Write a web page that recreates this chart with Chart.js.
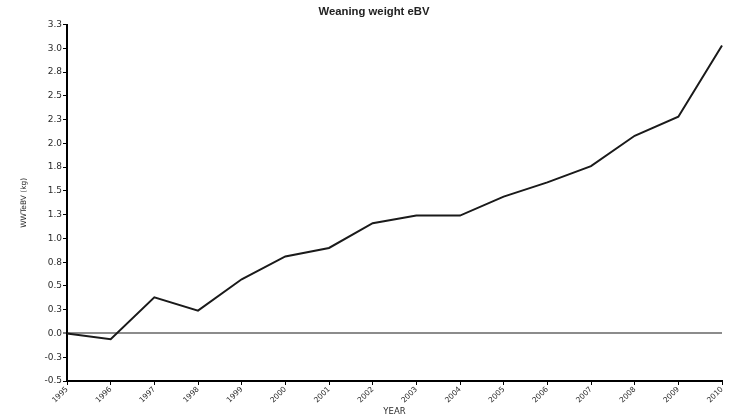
<!DOCTYPE html>
<html>
<head>
<meta charset="utf-8">
<script src="https://cdn.jsdelivr.net/npm/chart.js@4"></script>
<style>
  html, body { margin: 0; padding: 0; background: #fff; }
  #wrap { width: 748px; height: 414px; }
</style>
</head>
<body>
<div id="wrap"><canvas id="c" width="748" height="414"></canvas></div>
<script>
const years = ['1995','1996','1997','1998','1999','2000','2001','2002','2003','2004','2005','2006','2007','2008','2009','2010'];
const wwtEbv = [0.00, -0.06, 0.38, 0.24, 0.57, 0.81, 0.90, 1.16, 1.24, 1.24, 1.44, 1.59, 1.76, 2.08, 2.28, 3.03];
const yTickLabels = ['-0.5','-0.3','0.0','0.3','0.5','0.8','1.0','1.3','1.5','1.8','2.0','2.3','2.5','2.8','3.0','3.3'];

const TITLE_FONT = '"Liberation Sans", Arial, Helvetica, sans-serif';
const FONT = '"DejaVu Sans", Verdana, sans-serif';

new Chart(document.getElementById('c'), {
  type: 'line',
  data: {
    labels: years,
    datasets: [{
      data: wwtEbv,
      borderColor: '#1a1a1a',
      borderWidth: 2,
      pointRadius: 0,
      tension: 0,
      fill: false
    }]
  },
  options: {
    responsive: false,
    animation: false,
    devicePixelRatio: 1,
    layout: { padding: { left: 15, right: 15, top: 0, bottom: 0 } },
    plugins: {
      legend: { display: false },
      tooltip: { enabled: false },
      title: {
        display: true,
        text: 'Weaning weight eBV',
        color: '#222',
        font: { family: TITLE_FONT, size: 11.3, weight: 'bold' },
        padding: { top: 5, bottom: 6 }
      }
    },
    scales: {
      x: {
        type: 'category',
        offset: false,
        border: { display: true, color: '#000', width: 2 },
        grid: { display: true, drawOnChartArea: false, tickColor: '#000', tickLength: 4, tickWidth: 1 },
        ticks: {
          color: '#2a2a2a',
          font: { family: FONT, size: 7.5 },
          minRotation: 45,
          maxRotation: 45,
          autoSkip: false,
          padding: 0
        },
        title: {
          display: true,
          text: 'YEAR',
          color: '#2a2a2a',
          font: { family: FONT, size: 8.5, lineHeight: 1 },
          padding: { top: 0, bottom: -2 }
        },
        afterFit: (s) => { s.height = 33; }
      },
      y: {
        min: -0.5,
        max: 3.25,
        border: { display: true, color: '#000', width: 2 },
        grid: {
          drawOnChartArea: true,
          color: (ctx) => (ctx.tick && Math.abs(ctx.tick.value) < 1e-9) ? '#8c8c8c' : 'rgba(0,0,0,0)',
          lineWidth: (ctx) => (ctx.tick && Math.abs(ctx.tick.value) < 1e-9) ? 2 : 1,
          tickColor: '#000',
          tickLength: 4,
          tickWidth: 1
        },
        ticks: {
          stepSize: 0.25,
          color: '#2a2a2a',
          font: { family: FONT, size: 9 },
          padding: 1,
          callback: (v, i) => yTickLabels[i]
        },
        title: {
          display: true,
          text: 'WWTeBV (kg)',
          color: '#2a2a2a',
          font: { family: FONT, size: 7.5 },
          padding: { top: 5, bottom: 0 }
        },
        afterFit: (s) => { s.width = 52; }
      },
      spacer: {
        type: 'linear',
        position: 'right',
        display: true,
        border: { display: false },
        grid: { display: false, drawTicks: false },
        ticks: { display: false },
        afterFit: (s) => { s.width = 11; }
      }
    }
  }
});
</script>
</body>
</html>
